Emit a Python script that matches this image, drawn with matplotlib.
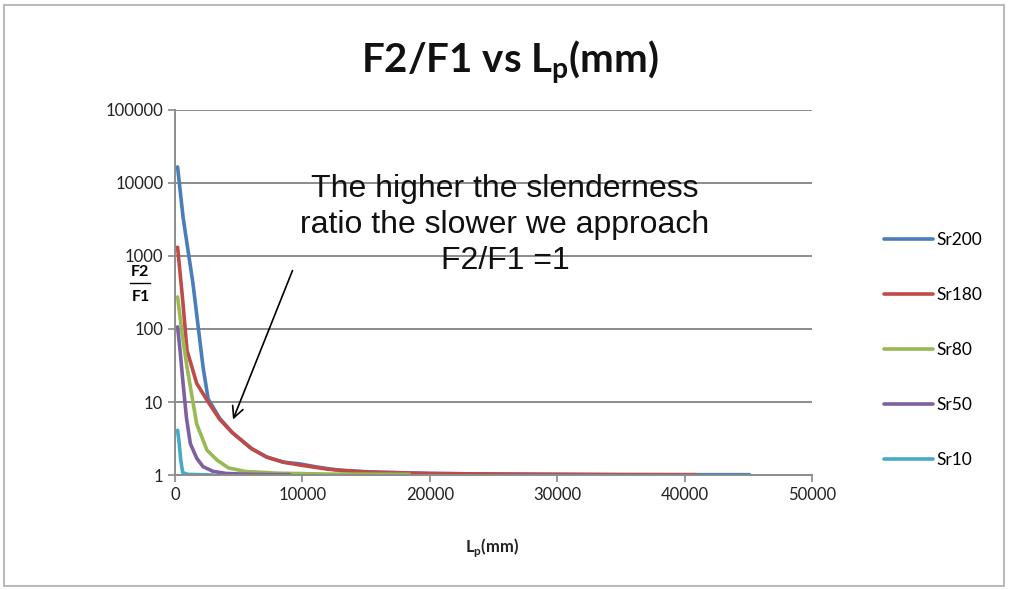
import numpy as np
import matplotlib
matplotlib.use('Agg')
import matplotlib.pyplot as plt
from matplotlib.lines import Line2D
from matplotlib.patches import Rectangle

plt.rcParams['font.family'] = 'Lato'
plt.rcParams['mathtext.fontset'] = 'custom'
plt.rcParams['mathtext.rm'] = 'Lato'
plt.rcParams['mathtext.bf'] = 'Lato:bold'

# series data (Lp in mm, F2/F1)
labels = ['Sr200', 'Sr180', 'Sr80', 'Sr50', 'Sr10']
colors = ['#4A7EBB', '#BE4B48', '#98B954', '#7D60A0', '#46AAC5']

sr200_x = [200, 630, 1400, 2200, 2600, 3500, 4500, 6000, 7200, 8500, 9800, 11000, 13000, 16000, 20000, 25000, 30000, 35000, 40000, 45100]
sr200_y = [16600, 3400, 430, 30, 11, 6, 3.8, 2.3, 1.76, 1.5, 1.42, 1.3, 1.15, 1.09, 1.05, 1.03, 1.02, 1.015, 1.01, 1.01]

sr180_x = [200, 600, 940, 1700, 2600, 3500, 4500, 6000, 7200, 8500, 9800, 12000, 15000, 20000, 25000, 30000, 35000, 40900]
sr180_y = [1320, 250, 51, 18, 10, 5.8, 3.8, 2.3, 1.76, 1.5, 1.37, 1.2, 1.1, 1.05, 1.03, 1.02, 1.01, 1.01]

sr80_x = [200, 550, 940, 1700, 2500, 3300, 4200, 5500, 8000, 12000, 18400]
sr80_y = [275, 88, 30, 5, 2.2, 1.6, 1.25, 1.12, 1.06, 1.03, 1.02]

sr50_x = [200, 400, 630, 900, 1200, 1700, 2200, 3000, 4000, 6000, 9000]
sr50_y = [107, 50, 18, 6, 2.7, 1.7, 1.3, 1.12, 1.05, 1.02, 1.01]

sr10_x = [200, 300, 450, 600, 1000, 2000, 3000]
sr10_y = [4.1, 3.0, 1.6, 1.08, 1.02, 1.01, 1.0]

xs = [sr200_x, sr180_x, sr80_x, sr50_x, sr10_x]
ys = [sr200_y, sr180_y, sr80_y, sr50_y, sr10_y]

fig = plt.figure(figsize=(10.1, 5.9), dpi=100)
fig.patches.append(Rectangle((0.004, 0.006), 0.99, 0.986, transform=fig.transFigure,
                             fill=False, edgecolor='#BBBBBB', linewidth=1.5))
ax = fig.add_axes([0.1733, 0.1949, 0.6307, 0.6187])

lines = []
for x, y, c, lab in zip(xs, ys, colors, labels):
    l, = ax.plot(x, y, color=c, linewidth=2.6, label=lab, solid_capstyle='round')
    lines.append(l)

ax.set_yscale('log')
ax.set_ylim(1, 100000)
ax.set_xlim(0, 50000)
ax.set_yticks([1, 10, 100, 1000, 10000, 100000])
ax.set_yticklabels(['1', '10', '100', '1000', '10000', '100000'])
ax.yaxis.set_minor_locator(matplotlib.ticker.NullLocator())
ax.set_xticks(np.arange(0, 50001, 10000))
ax.tick_params(axis='both', labelsize=12, colors='#888888', labelcolor='#222222',
               length=5, width=1.2)
ax.grid(axis='y', color='#8C8C8C', linewidth=1.4)
ax.set_axisbelow(True)
for s in ['top', 'right']:
    ax.spines[s].set_visible(False)
for s in ['left', 'bottom']:
    ax.spines[s].set_color('#8C8C8C')
    ax.spines[s].set_linewidth(1.4)

fig.text(0.505, 0.895, r'F2/F1 vs L$_\mathbf{p}$(mm)', ha='center', va='center',
         fontsize=29, fontweight='bold', color='#111111')
fig.text(0.487, 0.072, r'L$_\mathbf{p}$(mm)', ha='center', va='center',
         fontsize=12, fontweight='bold', color='#222222')

# y label as a fraction
fig.text(0.139, 0.539, 'F2', ha='center', va='center', fontsize=11.5, fontweight='bold')
fig.text(0.139, 0.496, 'F1', ha='center', va='center', fontsize=11.5, fontweight='bold')
fig.lines.append(Line2D([0.129, 0.149], [0.521, 0.521], transform=fig.transFigure,
                        color='black', linewidth=1))

fig.text(0.5, 0.619, 'The higher the slenderness\nratio the slower we approach\nF2/F1 =1',
         ha='center', va='center', fontsize=23,
         family='Liberation Sans', linespacing=1.25, color='#111111')
ax.annotate('', xy=(4470, 5.3), xytext=(9300, 685),
            arrowprops=dict(arrowstyle='->', color='black', lw=1.2, mutation_scale=20))

leg = fig.legend(handles=lines, loc='center left', bbox_to_anchor=(0.86, 0.407),
                 frameon=False, fontsize=12.5, handlelength=2.8, handletextpad=0.2,
                 labelspacing=2.25)

fig.savefig('out.png', dpi=100)
